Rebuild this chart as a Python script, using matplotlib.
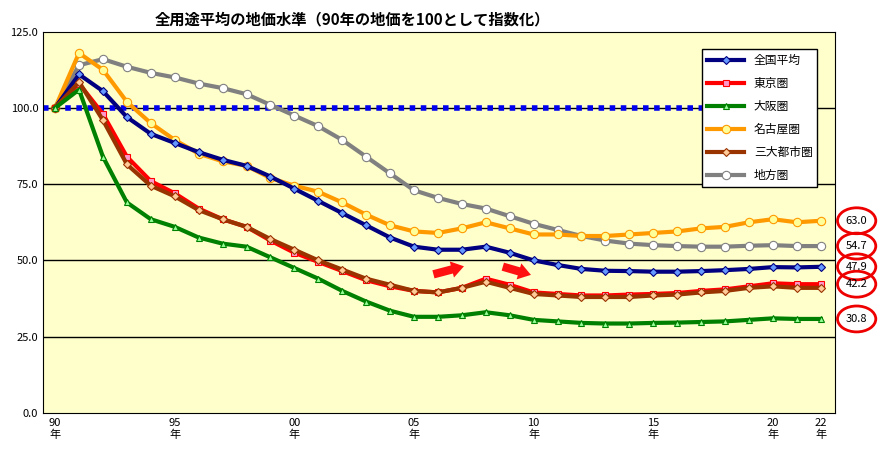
import matplotlib
matplotlib.use("Agg")
import matplotlib.pyplot as plt
from matplotlib.patches import Ellipse
plt.rcParams['font.family'] = ['Noto Sans CJK JP', 'DejaVu Sans']

years = list(range(1990, 2023))
national = [100,111,105.5,97,91.5,88.5,85.5,83,81,77.5,73.5,69.5,65.5,61.5,57.5,54.5,53.5,53.5,54.5,52.5,50,48.5,47.2,46.6,46.5,46.3,46.3,46.5,46.8,47.2,47.8,47.7,47.9]
tokyo = [100,108,98,84,76,72,67,63.5,61,56.5,52.5,49.5,46.5,43.5,41.5,40,39.5,41,44,42,39.5,39,38.5,38.5,38.8,39,39.3,40,40.5,41.5,42.5,42.2,42.2]
osaka = [100,106,84,69,63.5,61,57.5,55.5,54.5,51,47.5,44,40,36.5,33.5,31.5,31.5,32,33,32,30.5,30,29.5,29.3,29.3,29.5,29.6,29.8,30,30.5,31,30.8,30.8]
nagoya = [100,118,112.5,102,95,89.5,85,82.5,81,77,74.5,72.5,69,65,61.5,59.5,59,60.5,62.5,60.5,58.5,58.5,58,58,58.5,59,59.5,60.5,61,62.5,63.5,62.5,63.0]
three = [100,108.5,96,81.5,74.5,71,66.5,63.5,61,57,53.5,50,47,44,42,40,39.5,41,43,41,39,38.5,38,38,38,38.5,38.8,39.5,40,41,41.5,41,41]
regional = [100,114,116,113.5,111.5,110,108,106.5,104.5,101,97.5,94,89.5,84,78.5,73,70.5,68.5,67,64.5,62,60,58,56.5,55.5,55,54.7,54.5,54.5,54.8,55,54.7,54.7]
names = ['全国平均','東京圏','大阪圏','名古屋圏','三大都市圏','地方圏']
ends = ['63.0','54.7','47.9','42.2','30.8']
end_y = [63.0,54.7,47.9,42.2,30.8]
xticks = [1990,1995,2000,2005,2010,2015,2020,2022]
xlabels = ['90\n年','95\n年','00\n年','05\n年','10\n年','15\n年','20\n年','22\n年']

fig = plt.figure(figsize=(8.8,4.66), dpi=100)
ax = fig.add_axes([0.049, 0.114, 0.900, 0.818])
ax.set_facecolor('#FFFFCC')
ax.set_xlim(1989.5, 2022.6)
ax.set_ylim(0, 125)
ax.set_yticks([0,25,50,75,100,125])
ax.set_yticklabels([f'{v:.1f}' for v in [0,25,50,75,100,125]], fontsize=8)
ax.set_xticks(xticks)
ax.set_xticklabels(xlabels, fontsize=8)
ax.tick_params(length=0)
for v in [25,50,75,100]:
    ax.axhline(v, color='black', lw=1, zorder=1)
ax.plot([1989.5, 2017.3], [100, 100], color='#0000EE', lw=4, ls=(0,(1,1)), zorder=2)

specs = [
    (national,'#000080','#6699FF','D',4),
    (tokyo,'#FF0000','#FF99CC','s',5),
    (osaka,'#008000','#99FF99','^',5),
    (nagoya,'#FF9900','#FFFF99','o',6),
    (three,'#993300','#FFCC99','D',4),
    (regional,'#808080','#FFFFFF','o',6),
]
order = [5,3,0,1,4,2]
lines = {}
for i in order:
    d,c,fc,m,ms = specs[i]
    l, = ax.plot(years, d, color=c, lw=3, marker=m, ms=ms, mfc=fc, mec=c, mew=0.8, zorder=3, label=names[i])
    lines[i] = l
leg = ax.legend([lines[i] for i in range(6)], names, loc='upper right', bbox_to_anchor=(0.985,0.97),
                fontsize=8.5, frameon=True, fancybox=False, framealpha=1, edgecolor='black', handlelength=3.2, labelspacing=0.85)
leg.get_frame().set_linewidth(1)
leg.set_zorder(5)

fig.text(0.40, 0.975, '全用途平均の地価水準（90年の地価を100として指数化）',
         ha='center', va='top', fontsize=11, fontweight='bold')
for t, y in zip(ends, end_y):
    ax.text(2023.5, y, t, fontsize=8, ha='center', va='center', clip_on=False)
    ax.add_patch(Ellipse((2023.5, y), 1.6, 8.5, fill=False, ec='#EE0000', lw=2, clip_on=False))
ax.annotate('', xy=(2007.2, 48.3), xytext=(2005.7, 45.2), arrowprops=dict(arrowstyle='simple,head_width=1.2,head_length=0.9,tail_width=0.6', color='#FF1111', lw=0))
ax.annotate('', xy=(2010.0, 45.0), xytext=(2008.6, 48.2), arrowprops=dict(arrowstyle='simple,head_width=1.2,head_length=0.9,tail_width=0.6', color='#FF1111', lw=0))
fig.savefig('out.png', dpi=100)
